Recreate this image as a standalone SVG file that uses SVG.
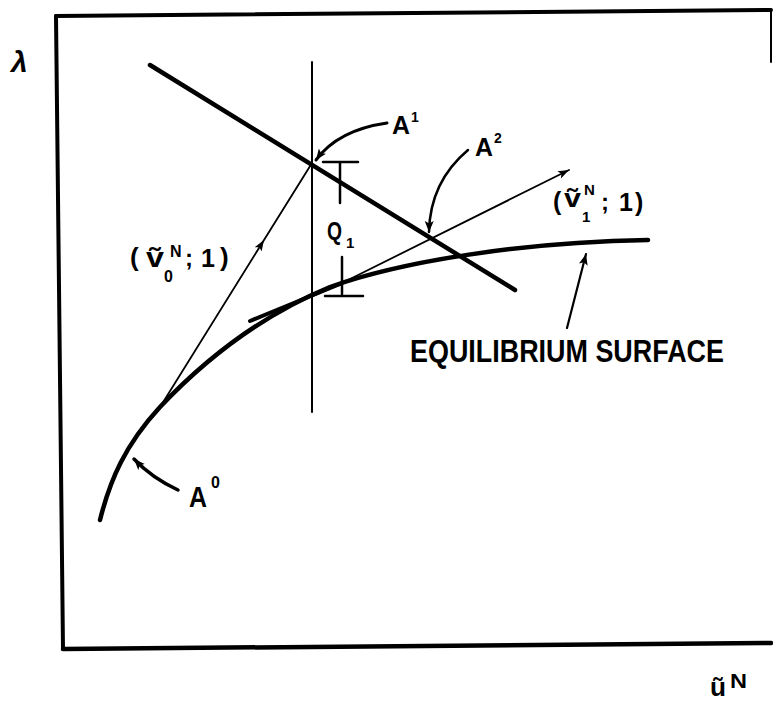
<svg xmlns="http://www.w3.org/2000/svg" width="773" height="702" viewBox="0 0 773 702">
<style>
.t{font-family:"Liberation Sans","DejaVu Sans",sans-serif;font-weight:bold;fill:#000}
.ln{fill:none;stroke:#000;stroke-linecap:round;stroke-linejoin:round}
</style>
<defs>
<marker id="ah" markerUnits="userSpaceOnUse" markerWidth="12" markerHeight="10" refX="11" refY="4.5" orient="auto">
<path d="M0,0 L11,4.5 L0,9 L2.5,4.5 z" fill="#000"/>
</marker>
<marker id="ahs" markerUnits="userSpaceOnUse" markerWidth="12" markerHeight="10" refX="11" refY="4" orient="auto">
<path d="M0,0 L11,4 L0,8 L2.5,4 z" fill="#000"/>
</marker>
</defs>
<rect width="773" height="702" fill="#fff"/>
<g id="frame">
<path class="ln" d="M56,16 L771,10" stroke-width="4"/>
<path class="ln" d="M56,16 L63,649" stroke-width="4"/>
<path class="ln" d="M63,649 L771,643" stroke-width="4.5"/>
<path class="ln" d="M771,10 L771,62" stroke-width="2"/>
</g>
<g id="axes-labels">
<text class="t" x="11" y="72" font-size="30" font-style="italic">λ</text>
<text class="t" x="710" y="696" font-size="26" textLength="16" lengthAdjust="spacingAndGlyphs">ũ</text>
<text class="t" x="730" y="688" font-size="20" textLength="17" lengthAdjust="spacingAndGlyphs">N</text>
</g>
<g id="connectors">
<path id="equilibrium-curve" class="ln" d="M100,520 C110,480 125,445 160,407 C195,370 250,320 330,287 C400,262 520,242 648,240" stroke-width="4.5"/>
<path id="corrector-line" class="ln" d="M150,65 L515,290" stroke-width="4.5"/>
<path id="vertical-line" class="ln" d="M312,62 L312,412" stroke-width="2"/>
<path id="v0-line" class="ln" d="M157,412 L264,240 L312,163" stroke-width="1.8" marker-mid="url(#ahs)"/>
<path id="v1-thick" class="ln" d="M250,321 L340,284" stroke-width="4"/>
<path id="v1-line" class="ln" d="M340,284 L569,170" stroke-width="1.8" marker-end="url(#ahs)"/>
<g id="q1-bracket">
<path class="ln" d="M323,162 L358,162 M340,162 L340,203" stroke-width="2.5"/>
<path class="ln" d="M342,257 L342,294 M325,296 L363,296" stroke-width="2.5"/>
</g>
<path class="ln" d="M387,123 Q338,130 316,160" stroke-width="3" marker-end="url(#ah)"/>
<path class="ln" d="M468,150 Q430,182 429,232" stroke-width="2.5" marker-end="url(#ah)"/>
<path class="ln" d="M178,490 Q152,478 134,459" stroke-width="3.5" marker-end="url(#ah)"/>
<path class="ln" d="M567,328 L586,254" stroke-width="2.2" marker-end="url(#ah)"/>
</g>
<g id="label-A1">
<text class="t" x="392" y="134" font-size="25" textLength="18" lengthAdjust="spacingAndGlyphs">A</text>
<text class="t" x="411" y="122" font-size="14">1</text>
</g>
<g id="label-A2">
<text class="t" x="475" y="156" font-size="25" textLength="18" lengthAdjust="spacingAndGlyphs">A</text>
<text class="t" x="494" y="143" font-size="14">2</text>
</g>
<g id="label-A0">
<text class="t" x="189" y="507" font-size="30" textLength="18" lengthAdjust="spacingAndGlyphs">A</text>
<text class="t" x="211" y="488" font-size="16">0</text>
</g>
<g id="label-Q1">
<text class="t" x="327" y="240" font-size="25" textLength="15" lengthAdjust="spacingAndGlyphs">Q</text>
<text class="t" x="346" y="248" font-size="15">1</text>
</g>
<g id="label-v0">
<text class="t" x="130" y="266" font-size="26">(</text>
<text class="t" x="146" y="267" font-size="27" textLength="18" lengthAdjust="spacingAndGlyphs">ṽ</text>
<text class="t" x="170" y="257" font-size="16">N</text>
<text class="t" x="164" y="282" font-size="16">0</text>
<text class="t" x="185" y="266" font-size="24">;</text>
<text class="t" x="201" y="267" font-size="25">1</text>
<text class="t" x="220" y="266" font-size="26">)</text>
</g>
<g id="label-v1">
<text class="t" x="553" y="210" font-size="25">(</text>
<text class="t" x="564" y="207" font-size="26" textLength="17" lengthAdjust="spacingAndGlyphs">ṽ</text>
<text class="t" x="584" y="195" font-size="15">N</text>
<text class="t" x="582" y="222" font-size="15">1</text>
<text class="t" x="601" y="210" font-size="24">;</text>
<text class="t" x="619" y="211" font-size="25">1</text>
<text class="t" x="635" y="211" font-size="25">)</text>
</g>
<g id="label-equilibrium">
<text class="t" x="410" y="362" font-size="31" textLength="314" lengthAdjust="spacingAndGlyphs">EQUILIBRIUM SURFACE</text>
</g>
</svg>
